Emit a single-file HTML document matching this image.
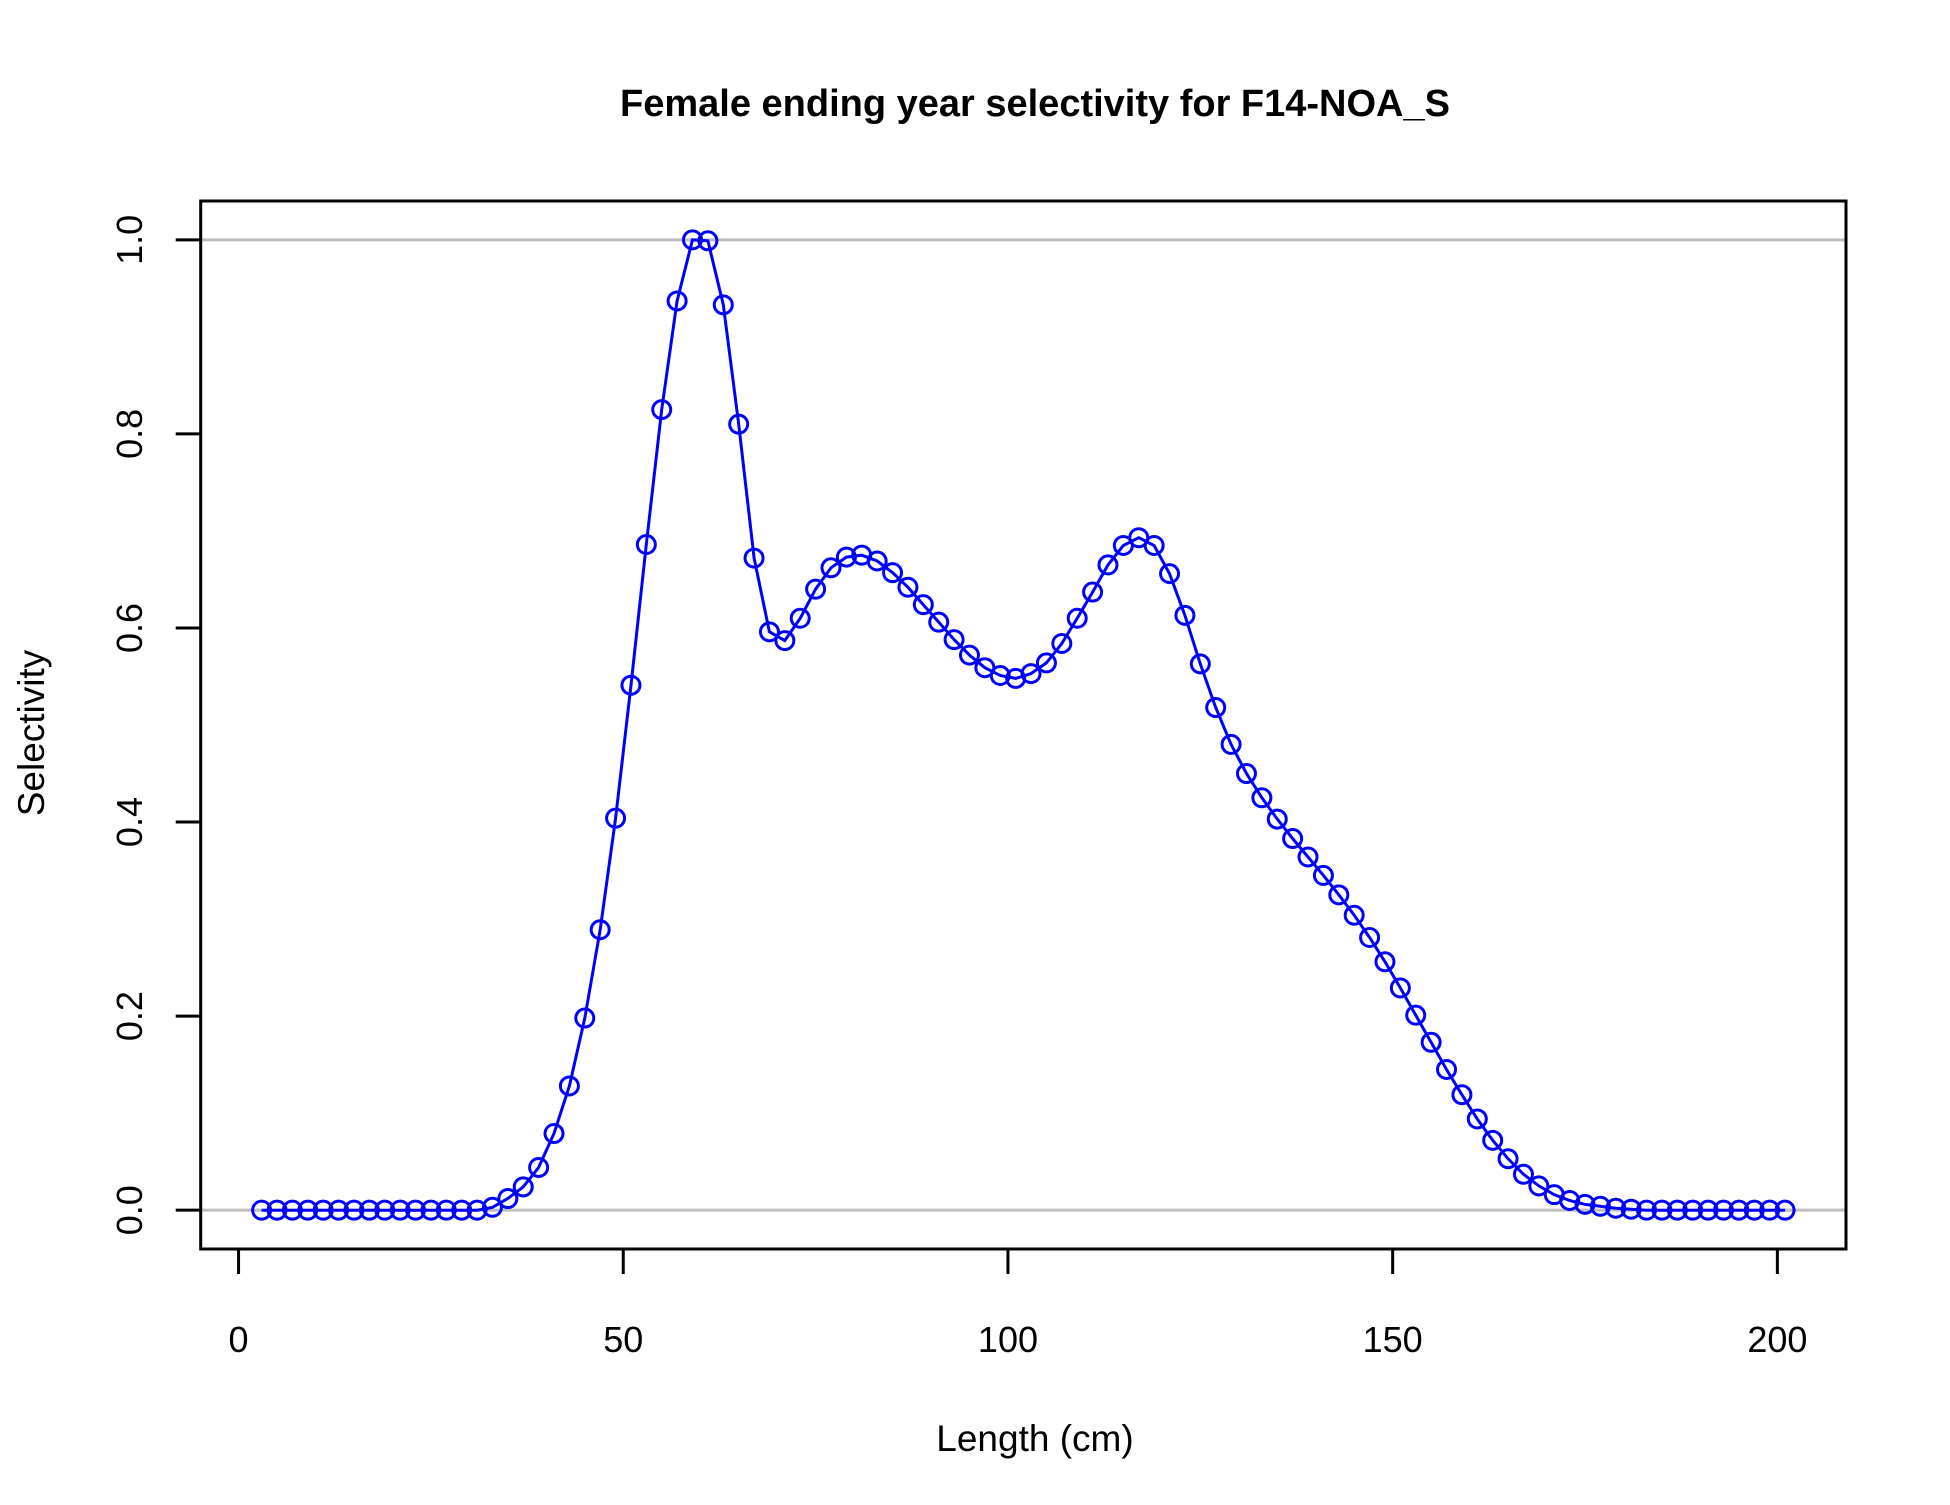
<!DOCTYPE html>
<html><head><meta charset="utf-8"><style>body{margin:0;background:#fff}svg text{font-family:"Liberation Sans",Arial,sans-serif}</style></head>
<body>
<svg id="chart" width="1950" height="1500" xmlns="http://www.w3.org/2000/svg">
<rect width="1950" height="1500" fill="#fff"/>
<g id="grid"></g><g id="series"></g><g id="axes"></g>
</svg>
<script>
const lengths = [];
for (let l = 3; l <= 201; l += 2) lengths.push(l);
const selectivity = [0,0,0,0,0,0,0,0,0,0,0,0,0,0,0,0.003,0.012,0.024,0.044,0.079,0.128,0.198,0.289,0.404,0.541,0.686,0.825,0.937,1.0,0.999,0.933,0.81,0.672,0.596,0.587,0.61,0.64,0.662,0.673,0.675,0.669,0.657,0.642,0.624,0.606,0.588,0.572,0.559,0.551,0.548,0.553,0.564,0.584,0.61,0.637,0.665,0.685,0.693,0.685,0.656,0.613,0.563,0.518,0.48,0.45,0.425,0.403,0.383,0.364,0.345,0.325,0.304,0.281,0.256,0.229,0.201,0.173,0.145,0.119,0.094,0.072,0.053,0.037,0.025,0.016,0.01,0.006,0.004,0.002,0.001,0,0,0,0,0,0,0,0,0,0,0];
const xTicks = [0,50,100,150,200];
const yTicks = [0,0.2,0.4,0.6,0.8,1.0];
const yTickLabels = ["0.0","0.2","0.4","0.6","0.8","1.0"];
const refLines = [0,1];

const L=200.7,R=1846,T=201,B=1249;
const xmin=-4.92,xmax=208.92,ymin=-0.04,ymax=1.04;
const X=v=>L+(v-xmin)/(xmax-xmin)*(R-L);
const Y=v=>B-(v-ymin)/(ymax-ymin)*(B-T);
const NS="http://www.w3.org/2000/svg";
function mk(tag,attrs,parent){const e=document.createElementNS(NS,tag);for(const k in attrs)e.setAttribute(k,attrs[k]);parent.appendChild(e);return e;}
const grid=document.getElementById('grid'),series=document.getElementById('series'),axes=document.getElementById('axes');

refLines.forEach(v=>{const ln=mk('line',{x1:L,x2:R,y1:Y(v),y2:Y(v),stroke:'#bebebe','stroke-width':3},grid);

});

const pts=lengths.map((l,i)=>X(l).toFixed(1)+','+Y(selectivity[i]).toFixed(1)).join(' ');
const pl=mk('polyline',{points:pts,fill:'none',stroke:'#0000ff','stroke-width':3},series);


lengths.forEach((l,i)=>{const c=mk('circle',{cx:X(l),cy:Y(selectivity[i]),r:9,fill:'none',stroke:'#0000ff','stroke-width':3},series);

});

const box=mk('rect',{x:L,y:T,width:R-L,height:B-T,fill:'none',stroke:'#000','stroke-width':3},axes);



xTicks.forEach(v=>{const t=mk('line',{x1:X(v),x2:X(v),y1:B,y2:B+25,stroke:'#000','stroke-width':3},axes);


const tx=mk('text',{x:X(v),y:1352,'font-size':36,'text-anchor':'middle'},axes);tx.textContent=v;

});

yTicks.forEach((v,i)=>{const t=mk('line',{x1:L-25,x2:L,y1:Y(v),y2:Y(v),stroke:'#000','stroke-width':3},axes);


const tx=mk('text',{x:142,y:Y(v),'font-size':36,'text-anchor':'middle',transform:`rotate(-90 142 ${Y(v)})`},axes);tx.textContent=yTickLabels[i];

});

const title=mk('text',{x:1035,y:116,'font-size':38,'font-weight':'bold','text-anchor':'middle'},axes);
title.textContent='Female ending year selectivity for F14-NOA_S';


const xl=mk('text',{x:1035,y:1451,'font-size':37,'text-anchor':'middle'},axes);
xl.textContent='Length (cm)';


const yl=mk('text',{x:44,y:733,'font-size':37,'text-anchor':'middle',transform:'rotate(-90 44 733)'},axes);
yl.textContent='Selectivity';


</script>
</body></html>
